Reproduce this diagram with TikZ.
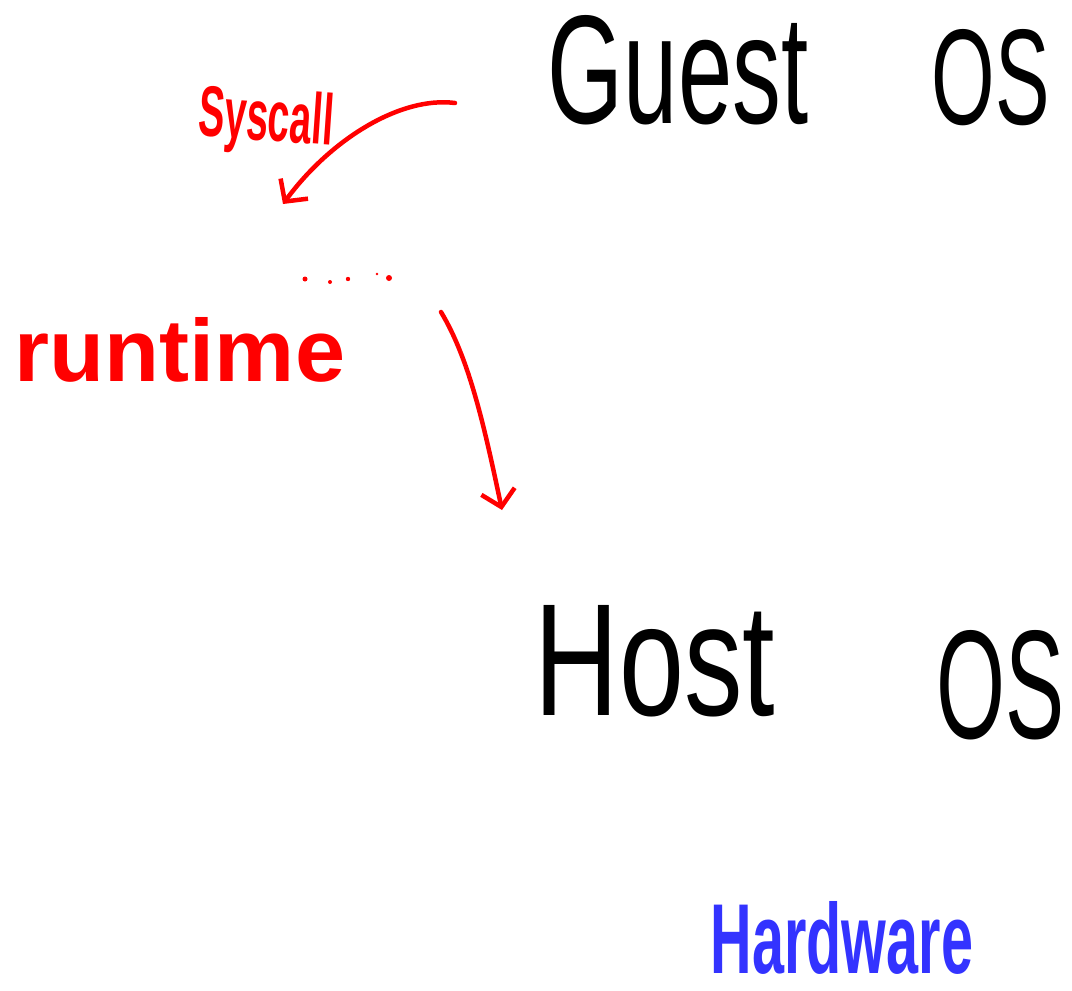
\documentclass[tikz,border=0pt]{standalone}
\usepackage{fontspec}
\setmainfont{Liberation Sans}
\usetikzlibrary{arrows.meta}
\definecolor{ink}{HTML}{000000}
\definecolor{pen}{HTML}{FF0000}
\definecolor{hw}{HTML}{3333FF}
\tikzset{
  lbl/.style={inner sep=0pt, outer sep=0pt, anchor=center},
  bigtxt/.style={lbl, text=ink},
  redtxt/.style={lbl, text=pen},
  bluetxt/.style={lbl, text=hw},
  redarrow/.style={draw=pen, line width=4.5pt, line cap=round, line join=round,
    -{Straight Barb[length=16pt, width=34pt, line width=4.5pt]}},
  reddot/.style={fill=pen, draw=none}
}
\begin{document}
\begin{tikzpicture}[x=1pt, y=-1pt]
\useasboundingbox (0,0) rectangle (1072,991);
% Guest OS
\node[bigtxt] (guest) at (678,70) {\resizebox{260pt}{108pt}{Guest}};
\node[bigtxt] (guestos) at (991,78) {\resizebox{118pt}{95pt}{OS}};
% Host OS
\node[bigtxt] (host) at (655,661) {\resizebox{240pt}{110pt}{Host}};
\node[bigtxt] (hostos) at (1001,685) {\resizebox{128pt}{108pt}{OS}};
% Hardware
\node[bluetxt] (hardware) at (842,938) {\resizebox{262pt}{72pt}{\textbf{Hardware}}};
% Syscall
\node[redtxt, rotate=-4] (syscall) at (266,122) {\resizebox{135pt}{52pt}{\textbf{Syscall}}};
% runtime
\node[redtxt] (runtime) at (180,350) {\resizebox{330pt}{64pt}{\textbf{runtime}}};
% dots
\coordinate (d1) at (305,279);
\coordinate (d2) at (330,282);
\coordinate (d3) at (348,279);
\coordinate (d4) at (377,274);
\coordinate (d5) at (389,278);
\foreach \d/\r in {d1/2.5,d2/2,d3/2.2,d4/1.3,d5/3} \fill[reddot] (\d) circle (\r pt);
% arrows
\coordinate (s1) at (455,103);
\coordinate (s2) at (283,204);
\draw[redarrow] (s1) .. controls (400,96) and (330,140) .. (s2);
\coordinate (r1) at (441,312);
\coordinate (r2) at (502,510);
\draw[redarrow] (r1) .. controls (470,360) and (485,430) .. (r2);
\end{tikzpicture}
\end{document}
